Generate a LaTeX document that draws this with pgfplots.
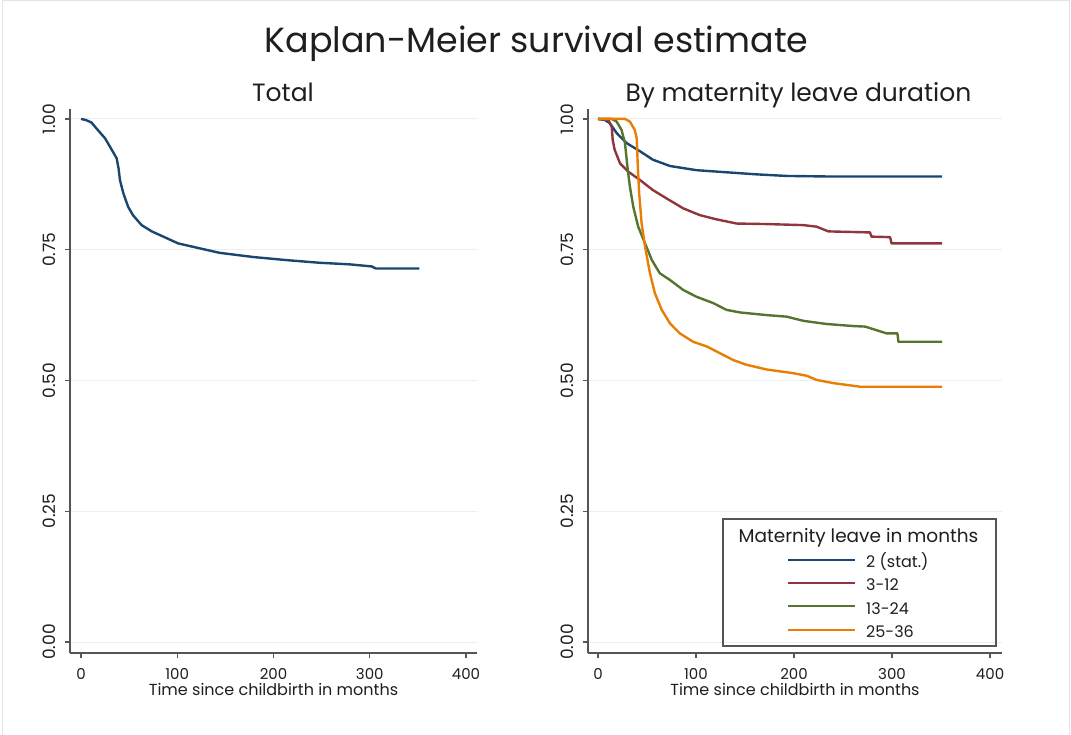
\documentclass[border=0pt]{standalone}
\usepackage{fontspec}
\setmainfont{Poppins}
\usepackage{pgfplots}
\pgfplotsset{compat=1.18}
\definecolor{sNavy}{RGB}{26,71,111}
\definecolor{sMaroon}{RGB}{144,53,59}
\definecolor{sGreen}{RGB}{85,117,47}
\definecolor{sOrange}{RGB}{232,126,4}
\definecolor{gridc}{RGB}{232,240,242}
\definecolor{axc}{RGB}{85,85,85}
\definecolor{txt}{RGB}{30,30,30}
\definecolor{framec}{RGB}{228,228,228}

\pgfplotsset{kmstyle/.style={
  scale only axis, height=544pt,
  ymin=-0.021, ymax=1.019,
  axis x line*=bottom, axis y line*=left,
  axis line style={axc, line width=1.2pt},
  tick style={axc, line width=1.2pt},
  tick align=outside, major tick length=5pt,
  xtick={0,100,200,300,400}, xticklabels={0,100,200,300,400},
  ytick={0,0.25,0.5,0.75,1}, yticklabels={0.00,0.25,0.50,0.75,1.00},
  ymajorgrids, grid style={gridc, line width=1pt},
  yticklabel style={anchor=south, rotate=90, yshift=6pt, font=\fontsize{17}{17}\selectfont, text=txt},
  xticklabel style={yshift=-7pt, font=\fontsize{15}{15}\selectfont, text=txt},
  xlabel={Time since childbirth in months},
  xlabel style={at={(axis description cs:0.5,0)}, anchor=base, yshift=-43pt, font=\fontsize{16}{16}\selectfont, text=txt},
}}

\begin{document}
\begin{tikzpicture}[x=1pt,y=1pt]
\useasboundingbox (0,0) rectangle (1071,735);
\draw[framec, line width=1pt] (2.5,0) -- (2.5,734.5) -- (1069.5,734.5) -- (1069.5,0);

\node[anchor=base, text=txt, font=\fontsize{34.9}{34.9}\selectfont] at (536.5,682) {Kaplan-Meier survival estimate};
\node[anchor=base, text=txt, font=\fontsize{25}{25}\selectfont] at (283,633) {Total};
\node[anchor=base, text=txt, font=\fontsize{25}{25}\selectfont] at (798.5,633) {By maternity leave duration};

\begin{axis}[kmstyle, width=407pt, at={(70pt,82pt)}, anchor=south west,
  xmin=-11.4, xmax=411.4]
\addplot[sNavy, line width=2.4pt, line join=round] table {
t S
0 1.000
5 0.998
11 0.993
16 0.982
25 0.963
32 0.941
37 0.925
39 0.906
40.5 0.883
44 0.858
49 0.832
54 0.816
63 0.797
73.5 0.785
85.5 0.775
101 0.762
120 0.754
144 0.744
179 0.736
214 0.730
248 0.725
279 0.722
302 0.718
306.5 0.714
351.5 0.714
};
\end{axis}

\begin{axis}[kmstyle, width=414pt, at={(588pt,82pt)}, anchor=south west,
  xmin=-10.2, xmax=412.2,
  legend style={draw=none, fill=none, at={(0.4807,0.1775)}, anchor=north west,
    inner sep=0pt, row sep=9.3pt, column sep=10pt,
    nodes={inner sep=0pt, text height=11pt, text depth=3pt, text=txt},
    font=\fontsize{16}{16}\selectfont},
  legend cell align=left,
  legend image code/.code={\draw[#1] (0pt,4pt) -- (67pt,4pt);}]
\addlegendimage{sNavy, line width=2pt}
\addlegendentry{2 (stat.)}
\addlegendimage{sMaroon, line width=2pt}
\addlegendentry{3-12}
\addlegendimage{sGreen, line width=2pt}
\addlegendentry{13-24}
\addlegendimage{sOrange, line width=2pt}
\addlegendentry{25-36}
\addplot[sNavy, line width=2.4pt, line join=round, forget plot] table {
t S
0 1.000
7 0.998
12 0.992
19 0.973
29 0.954
43 0.938
56 0.922
73.5 0.910
100.5 0.902
131 0.898
162 0.894
192.5 0.891
233 0.890
351 0.890
};
\addplot[sMaroon, line width=2.4pt, line join=round, forget plot] table {
t S
0 1.000
10.5 0.998
14 0.985
15 0.960
17 0.941
22.5 0.915
31 0.899
43 0.883
56 0.864
70 0.848
87 0.829
104 0.816
121 0.808
141.5 0.800
172 0.799
209.5 0.797
223 0.794
235 0.785
277.5 0.783
279 0.775
298 0.774
299.5 0.762
351 0.762
};
\addplot[sGreen, line width=2.4pt, line join=round, forget plot] table {
t S
0 1.000
14 1.000
19 0.995
24 0.979
27.5 0.954
30 0.909
32.5 0.871
36 0.832
41 0.794
48 0.762
55 0.730
63 0.705
73.5 0.692
87 0.673
100.5 0.660
117.5 0.648
131 0.635
145 0.630
172 0.625
192.5 0.622
209.5 0.614
233 0.608
260.5 0.604
272.5 0.603
281 0.598
294.5 0.590
305.5 0.590
306.5 0.574
351 0.574
};
\addplot[sOrange, line width=2.4pt, line join=round, forget plot] table {
t S
0 1.000
27.5 1.000
32.5 0.995
37.5 0.979
39.5 0.963
40.5 0.915
42 0.858
44.5 0.800
48 0.756
53 0.705
58 0.667
65 0.635
73.5 0.609
83.5 0.590
97 0.574
111 0.565
124.5 0.552
138 0.539
151.5 0.530
172 0.521
199 0.514
213 0.509
223 0.501
240 0.495
267.5 0.488
351 0.488
};
\end{axis}

\draw[axc, line width=1.2pt] (723,216) rectangle (996,89);
\node[anchor=base, text=txt, font=\fontsize{18.5}{18.5}\selectfont] at (858.5,192) {Maternity leave in months};
\end{tikzpicture}
\end{document}
